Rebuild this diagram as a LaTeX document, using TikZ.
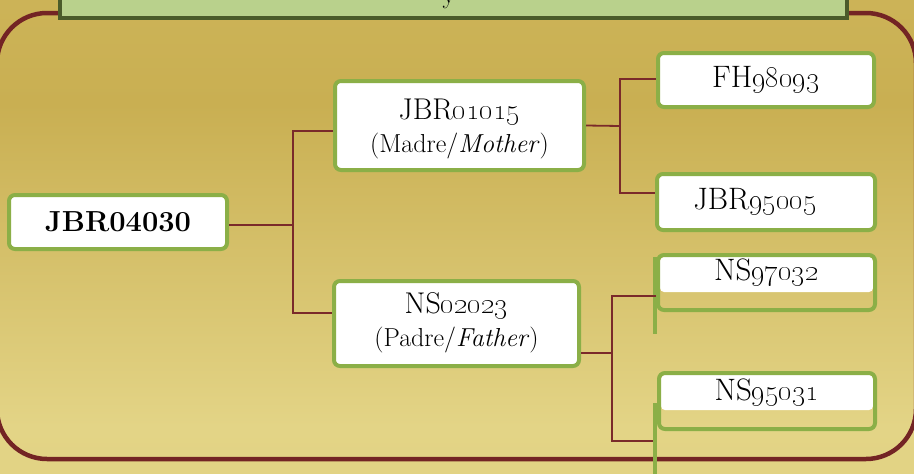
\documentclass[tikz,border=0pt]{standalone}
\usetikzlibrary{calc}
\definecolor{bgtop}{HTML}{D4BD63}
\definecolor{bgmid}{HTML}{C9AF52}
\definecolor{bglow}{HTML}{E3D486}
\definecolor{bgbot}{HTML}{DCCB79}
\definecolor{framered}{HTML}{732424}
\definecolor{connred}{HTML}{7A2A2A}
\definecolor{boxgreen}{HTML}{8BAF47}
\definecolor{headfill}{HTML}{B9D18C}
\definecolor{headline}{HTML}{4B5B2A}
\pgfdeclareverticalshading{bgshade}{100bp}{color(0bp)=(bgbot); color(30bp)=(bglow); color(64bp)=(bgmid); color(100bp)=(bgtop)}
\newcommand{\fsz}[1]{\fontsize{#1}{33}\selectfont}
\begin{document}
\begin{tikzpicture}[x=1pt,y=-1pt,
  idbox/.style={draw=boxgreen, line width=4pt, fill=white, rounded corners=6pt,
    inner sep=0pt, align=center, font=\fsz{31}},
  openbox/.style={idbox, fill=none},
  link/.style={draw=connred, line width=1.8pt},
  greenbar/.style={draw=boxgreen, line width=4pt},
  txt/.style={font=\fsz{31}, inner sep=0pt},
  twotxt/.style={font=\fsz{26}, align=center, inner sep=0pt}
]
\useasboundingbox (0,0) rectangle (914,474);
\clip (0,0) rectangle (914,474);
\shade[shading=bgshade] (0,0) rectangle (914,474);
% outer frame
\draw[draw=framered, line width=4.5pt, rounded corners=50pt] (-3,13) rectangle (916,459);
% header band (cut off at top)
\draw[fill=headfill, draw=headline, line width=4pt] (60,-20) rectangle (847,18);
\node[font=\fsz{26}, anchor=base, inner sep=0pt] (hy) at (449,3) {y};

% nodes
\node[idbox, font=\fsz{29}\bfseries, minimum width=218pt, minimum height=54pt] (root) at (118,222) {JBR04030};
\node[idbox, minimum width=249pt, minimum height=89pt] (madre) at (459.5,125.5) {};
\node[twotxt] (madretxt) at (459.5,129)
  {{\fsz{30}JBR\oldstylenums{01015}}\\(Madre/\textit{Mother})};
\node[idbox, minimum width=245pt, minimum height=85pt] (padre) at (456.5,323.5) {};
\node[twotxt] (padretxt) at (456.5,323)
  {{\fsz{30}NS\oldstylenums{02023}}\\(Padre/\textit{Father})};
\node[idbox, minimum width=216pt, minimum height=54pt] (fh) at (766,80) {FH\oldstylenums{98093}};
\node[idbox, minimum width=218pt, minimum height=56pt] (jbr) at (766,202) {JBR\oldstylenums{95005}\hspace*{22pt}};

% partially white boxes
\fill[white, rounded corners=4pt] (660,257) rectangle (873,292);
\node[openbox, minimum width=217pt, minimum height=55pt] (nsa) at (766.5,282.5) {};
\node[txt] (nsatxt) at (766.5,273) {NS\oldstylenums{97032}};
\fill[white, rounded corners=4pt] (661,375) rectangle (873,410);
\node[openbox, minimum width=216pt, minimum height=56pt] (nsb) at (767,401) {};
\node[txt] (nsbtxt) at (767,393) {NS\oldstylenums{95031}};
\draw[greenbar] ($(nsa.north west)+(-1,4)$) -- ++(0,77);
\draw[greenbar] ($(nsb.north west)+(-2,32)$) -- ++(0,80);

% connectors
\coordinate (j1) at (293,225);
\coordinate (j2) at (620,126);
\coordinate (j3) at (612,353);
\coordinate (e4) at (653,441);
\draw[link] ([yshift=-3pt]root.east) -- (j1);
\draw[link] ([yshift=-5.5pt]madre.west) -| (j1) |- ([yshift=10.5pt]padre.west);
\draw[link] (madre.east) -- (j2);
\draw[link] ([yshift=1pt]fh.west) -| (j2) |- ([yshift=9pt]jbr.west);
\draw[link] ([yshift=-29.5pt]padre.east) -- (j3);
\draw[link] ([yshift=-13.5pt]nsa.west) -| (j3) |- (e4);
\end{tikzpicture}
\end{document}
